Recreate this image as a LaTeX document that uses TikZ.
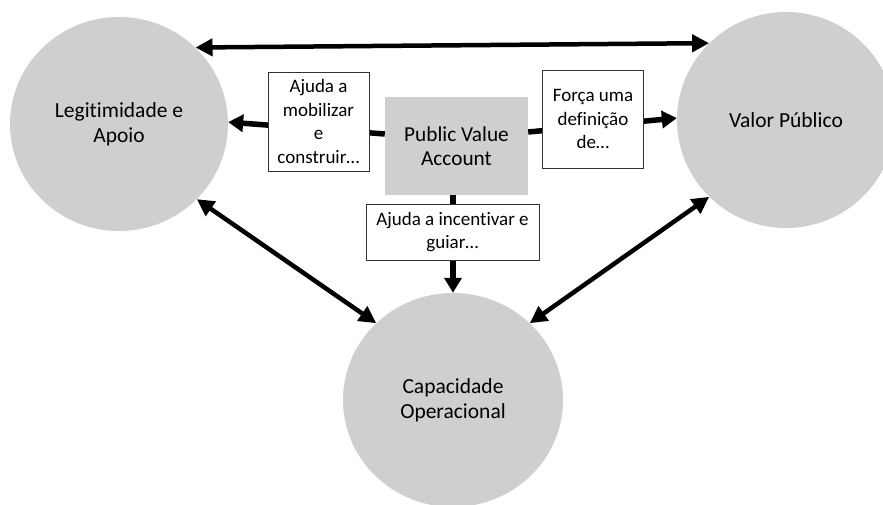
\documentclass[tikz,border=0pt]{standalone}
\usepackage{fontspec}
\setmainfont{Carlito}[Ligatures=NoCommon]
\usetikzlibrary{arrows.meta,shapes.geometric,calc}
\definecolor{discgray}{HTML}{D0CECE}
\tikzset{
  disc/.style={ellipse,fill=discgray,draw=none,align=center,font=\fontsize{21.5}{25}\selectfont},
  actbox/.style={rectangle,fill=discgray,draw=none,align=center,inner sep=0pt,font=\fontsize{21.3}{24}\selectfont},
  labelbox/.style={rectangle,fill=white,draw=black!80,line width=0.9pt,align=center,inner sep=0pt,font=\fontsize{19}{23.5}\selectfont},
  twoway/.style={line width=4.5pt,{Triangle[length=17pt,width=17pt]}-{Triangle[length=17pt,width=17pt]}},
  oneway/.style={line width=5.5pt,-{Triangle[length=15pt,width=17pt]}}
}
\begin{document}
\begin{tikzpicture}[x=1pt,y=-1pt]
\useasboundingbox (0,0) rectangle (883,505);
% the three outcomes
\node[disc,minimum width=218pt,minimum height=214pt] (L) at (119,124) {Legitimidade e\\Apoio};
\node[disc,minimum width=218pt,minimum height=216pt] (R) at (786,120) {Valor Público};
\node[disc,minimum width=220pt,minimum height=214pt] (C) at (453,400) {Capacidade\\Operacional};
% the account in the middle
\node[actbox,minimum width=143pt,minimum height=98pt] (P) at (456.5,146) {Public Value\\Account};
% mutual links between the outcomes
\draw[twoway] (L.45) -- (R.135);
\draw[twoway] (L.-44) -- (C.135);
\draw[twoway] (R.225) -- (C.45);
% what the account does for each outcome
\draw[oneway] ([yshift=12pt]P.west) -- (L.1);
\draw[oneway] ([yshift=14pt]P.east) -- (R.179);
\draw[oneway] (P.south -| C.north) -- (C.north);
\node[labelbox,minimum width=101pt,minimum height=99pt] (la) at (318.5,121.5) {Ajuda a\\mobilizar\\e\\construir…};
\node[labelbox,minimum width=101pt,minimum height=98pt] (lb) at (593,119) {Força uma\\definição\\de…};
\node[labelbox,minimum width=173pt,minimum height=56pt] (lc) at (452.5,232) {Ajuda a incentivar e\\guiar…};
\end{tikzpicture}
\end{document}
